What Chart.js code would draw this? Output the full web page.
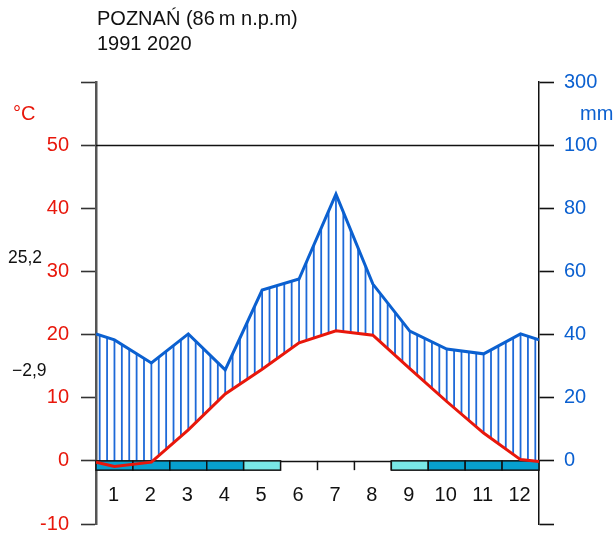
<!DOCTYPE html>
<html>
<head>
<meta charset="utf-8">
<script src="https://cdn.jsdelivr.net/npm/chart.js@4/dist/chart.umd.min.js"></script>
<style>
  html, body { margin: 0; padding: 0; background: #fff; }
  #wrap { position: relative; width: 615px; height: 533px; }
</style>
</head>
<body>
<div id="wrap"><canvas id="c" width="615" height="533"></canvas></div>
<script>
// data
const months = ["1", "2", "3", "4", "5", "6", "7", "8", "9", "10", "11", "12"];
const temperature = [-0.9, -0.2, 4.9, 10.6, 14.5, 18.7, 20.6, 19.9, 14.6, 9.4, 4.4, 0.2]; // °C
const precipitation = [38.3, 31.0, 40.2, 28.8, 54.1, 57.6, 84.5, 56.0, 41.1, 35.4, 33.9, 40.2]; // mm
const tempEdges = [-0.2, -0.1];     // values at left / right border
const precipEdges = [40.2, 38.3];
const frost = ["d", "d", "d", "d", "l", "", "", "", "l", "d", "d", "d"]; // d = frost, l = possible frost
const tempTicks = [-10, 0, 10, 20, 30, 40, 50];
const precipTicks = [0, 20, 40, 60, 80, 100];
const station = "POZNAŃ (86\u2009m n.p.m)";
const period = "1991 2020";
const maxTemp = "25,2";
const minTemp = "\u22122,9";

const RED = "#e8170b";
const BLUE = "#0b60d0";
const FONT = "'Liberation Sans', Arial, sans-serif";

function withEdges(vals, edges) {
  const pts = [{ x: 0.5, y: edges[0] }];
  vals.forEach((v, i) => pts.push({ x: i + 1, y: v }));
  pts.push({ x: 12.5, y: edges[1] });
  return pts;
}
const tempPts = withEdges(temperature, tempEdges);
const precipPts = withEdges(precipitation, precipEdges);

function interp(pts, x) {
  for (let i = 0; i < pts.length - 1; i++) {
    const a = pts[i], b = pts[i + 1];
    if (x >= a.x && x <= b.x) return a.y + (b.y - a.y) * (x - a.x) / (b.x - a.x);
  }
  return pts[pts.length - 1].y;
}

// hatching, frost boxes, reference lines, texts
const decor = {
  id: "decor",
  beforeDatasetsDraw(chart) {
    const { ctx, chartArea: ca, scales } = chart;
    const x = scales.x, t = scales.t, p = scales.p;
    ctx.save();
    // humid period hatching
    ctx.strokeStyle = "#1d69d8";
    ctx.lineWidth = 1.8;
    for (let i = 0; i < 60; i++) {
      const xv = 0.6 + 0.2 * i;
      const px = x.getPixelForValue(xv);
      const yp = p.getPixelForValue(interp(precipPts, xv));
      const yt = t.getPixelForValue(interp(tempPts, xv));
      if (yp < yt) {
        ctx.beginPath();
        ctx.moveTo(px, yp);
        ctx.lineTo(px, yt);
        ctx.stroke();
      }
    }
    // 50 °C / 100 mm line and zero line
    ctx.strokeStyle = "#111";
    ctx.lineWidth = 1.5;
    [50, 0].forEach(v => {
      const y = Math.round(t.getPixelForValue(v)) + 0.5;
      ctx.beginPath();
      ctx.moveTo(ca.left, y);
      ctx.lineTo(ca.right, y);
      ctx.stroke();
    });
    // frost boxes
    const y0 = t.getPixelForValue(0);
    const h = 9.3;
    frost.forEach((f, i) => {
      const xl = x.getPixelForValue(i + 0.5), xr = x.getPixelForValue(i + 1.5);
      if (f) {
        ctx.fillStyle = f === "d" ? "#07a0cf" : "#79e7e6";
        ctx.fillRect(xl, y0, xr - xl, h);
        ctx.strokeStyle = "#111";
        ctx.lineWidth = 1.5;
        ctx.strokeRect(xl, y0, xr - xl, h);
      } else {
        ctx.strokeStyle = "#111";
        ctx.lineWidth = 1.5;
        ctx.beginPath();
        ctx.moveTo(xr, y0);
        ctx.lineTo(xr, y0 + h);
        ctx.stroke();
      }
    });
    ctx.restore();
  },
  afterDraw(chart) {
    const { ctx, scales } = chart;
    const x = scales.x;
    ctx.save();
    ctx.textBaseline = "middle";
    ctx.textAlign = "center";
    ctx.fillStyle = "#111";
    ctx.font = "20px " + FONT;
    months.forEach((m, i) => ctx.fillText(m, x.getPixelForValue(i + 1) - 1, 495));
    ctx.textAlign = "left";
    ctx.textBaseline = "alphabetic";
    ctx.font = "20px " + FONT;
    ctx.fillText(station, 97, 25);
    ctx.fillText(period, 97, 50);
    ctx.font = "17.5px " + FONT;
    ctx.fillText(maxTemp, 8, 263);
    ctx.fillText(minTemp, 12, 376);
    ctx.font = "20px " + FONT;
    ctx.fillStyle = RED;
    ctx.fillText("°C", 13, 120);
    ctx.fillStyle = BLUE;
    ctx.fillText("mm", 580, 120);
    ctx.restore();
  }
};

new Chart(document.getElementById("c"), {
  type: "line",
  data: {
    datasets: [
      {
        data: precipPts,
        yAxisID: "p",
        borderColor: BLUE,
        borderWidth: 3,
        pointRadius: 0,
        tension: 0
      },
      {
        data: tempPts,
        yAxisID: "t",
        borderColor: RED,
        borderWidth: 3,
        pointRadius: 0,
        tension: 0
      }
    ]
  },
  options: {
    responsive: false,
    animation: false,
    layout: { padding: { top: 82, bottom: 9, left: 0, right: 0 } },
    plugins: { legend: { display: false }, tooltip: { enabled: false } },
    scales: {
      x: { type: "linear", min: 0.5, max: 12.5, display: false },
      t: {
        position: "left",
        min: -10,
        max: 60,
        afterBuildTicks: s => { s.ticks = tempTicks.concat([60]).map(v => ({ value: v })); },
        ticks: {
          color: RED,
          font: { size: 20, family: FONT },
          padding: 12,
          autoSkip: false,
          callback: v => (tempTicks.includes(v) ? String(v) : "")
        },
        grid: { drawOnChartArea: false, tickLength: 15, tickColor: "#333", tickWidth: 1.6 },
        border: { color: "#555", width: 2.5 },
        afterFit: s => { s.width = 96; s.paddingTop = 0; s.paddingBottom = 0; }
      },
      p: {
        position: "right",
        min: -20,
        max: 120,
        afterBuildTicks: s => { s.ticks = [-20].concat(precipTicks, [120]).map(v => ({ value: v })); },
        ticks: {
          color: BLUE,
          font: { size: 20, family: FONT },
          padding: 10,
          autoSkip: false,
          callback: v => (v === 120 ? "300" : precipTicks.includes(v) ? String(v) : "")
        },
        grid: { drawOnChartArea: false, tickLength: 15, tickColor: "#111", tickWidth: 1.6 },
        border: { color: "#111", width: 1.5 },
        afterFit: s => { s.width = 76; s.paddingTop = 0; s.paddingBottom = 0; }
      }
    }
  },
  plugins: [decor]
});
</script>
</body>
</html>
